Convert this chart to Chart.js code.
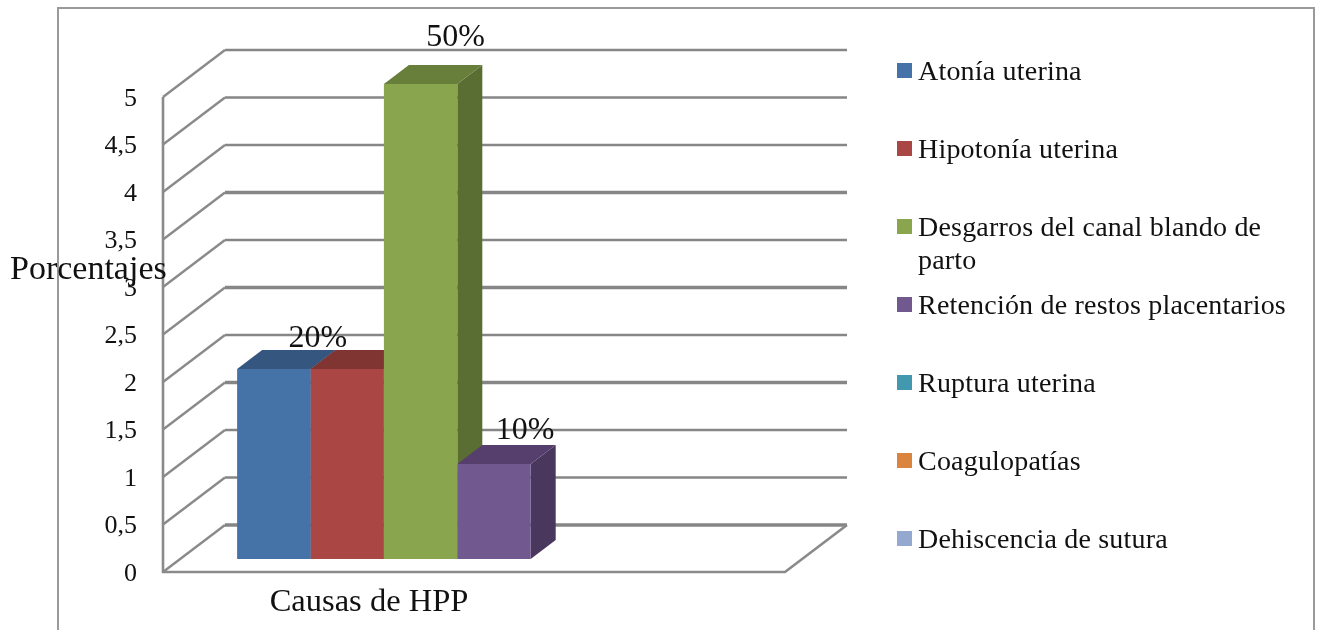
<!DOCTYPE html>
<html><head><meta charset="utf-8">
<style>html,body{margin:0;padding:0;background:#fff}canvas{display:block}</style>
<script src="https://cdn.jsdelivr.net/npm/chart.js@4"></script></head>
<body><canvas id="c" width="1317" height="630"></canvas>
<script>
const categories = ["Causas de HPP"];
const seriesNames = ["Atonía uterina","Hipotonía uterina","Desgarros del canal blando de parto","Retención de restos placentarios","Ruptura uterina","Coagulopatías","Dehiscencia de sutura"];
const legendLines = [["Atonía uterina"],["Hipotonía uterina"],["Desgarros del canal blando de","parto"],["Retención de restos placentarios"],["Ruptura uterina"],["Coagulopatías"],["Dehiscencia de sutura"]];
const seriesValues = [2,2,5,1,0,0,0];
const seriesColors = ["#4572A7","#AA4643","#89A54E","#71588F","#4198AF","#DB843D","#93A9CF"];
const topColors = ["#35577F","#813533","#687E3B","#563F6D","#317385","#A6642E","#70809D"];
const sideColors = ["#2E4C6F","#702E2C","#5A6D33","#4A375E","#2A6474","#905728","#616F88"];
const valueLabels = ["20%","","50%","10%","","",""];
const labelShift = [[44,-30],[0,0],[35,-46],[31,-33],[0,0],[0,0],[0,0]];
const heavyGridValues = [0,1.5,2.5,3.5];
const yTicks = {min:0,max:5,step:0.5};

const FONT = '"Liberation Serif", serif';
const BAR_DX = 20, BAR_DY = -13, DEPTH_X = 25, DEPTH_Y = 19, WALL_DX = 62, WALL_DY = 47;

const scene3d = {
  id:'scene3d',
  beforeDraw(chart){
    const {ctx,chartArea:a,scales:{y}} = chart;
    ctx.save();
    ctx.fillStyle='#fff';ctx.fillRect(0,0,chart.width,chart.height);
    ctx.strokeStyle='#9a9a9a';ctx.lineWidth=2;
    ctx.strokeRect(58,8,1256,640);
    y.ticks.forEach(t=>{
      const py=y.getPixelForValue(t.value);
      ctx.strokeStyle='#8a8a8a';ctx.lineWidth=2.4;
      ctx.beginPath();ctx.moveTo(a.left,py);ctx.lineTo(a.left+WALL_DX,py-WALL_DY);ctx.stroke();
      ctx.strokeStyle='#868686';ctx.lineWidth=heavyGridValues.includes(t.value)?3.4:2.6;
      ctx.beginPath();ctx.moveTo(a.left+WALL_DX,py-WALL_DY);ctx.lineTo(a.right+WALL_DX,py-WALL_DY);ctx.stroke();
    });
    ctx.strokeStyle='#8a8a8a';ctx.lineWidth=2.6;
    ctx.beginPath();ctx.moveTo(a.left,a.top);ctx.lineTo(a.left,a.bottom);ctx.lineTo(a.right,a.bottom);ctx.lineTo(a.right+WALL_DX,a.bottom-WALL_DY);ctx.stroke();
    ctx.restore();
  },
  beforeDatasetsDraw(chart){
    const {ctx} = chart;
    ctx.save();
    ctx.translate(BAR_DX,BAR_DY);
    chart.data.datasets.forEach((ds,i)=>{
      const bar=chart.getDatasetMeta(i).data[0];
      if(!bar||!ds.data[0])return;
      const {x,y,base,width}=bar.getProps(['x','y','base','width'],true);
      const l=x-width/2,r=x+width/2;
      ctx.fillStyle=sideColors[i];
      ctx.beginPath();ctx.moveTo(r,y);ctx.lineTo(r+DEPTH_X,y-DEPTH_Y);ctx.lineTo(r+DEPTH_X,base-DEPTH_Y);ctx.lineTo(r,base);ctx.closePath();ctx.fill();
      ctx.fillStyle=topColors[i];
      ctx.beginPath();ctx.moveTo(l,y);ctx.lineTo(l+DEPTH_X,y-DEPTH_Y);ctx.lineTo(r+DEPTH_X,y-DEPTH_Y);ctx.lineTo(r,y);ctx.closePath();ctx.fill();
    });
  },
  afterDatasetsDraw(chart){ chart.ctx.restore(); },
  afterDraw(chart){
    const {ctx} = chart;
    ctx.save();
    ctx.fillStyle='#111';ctx.textBaseline='middle';ctx.textAlign='center';
    ctx.font='32px '+FONT;
    chart.data.datasets.forEach((ds,i)=>{
      if(!valueLabels[i])return;
      const bar=chart.getDatasetMeta(i).data[0];
      ctx.fillText(valueLabels[i],bar.x+BAR_DX+labelShift[i][0],bar.y+BAR_DY+labelShift[i][1]);
    });
    ctx.textAlign='left';
    ctx.font='34px '+FONT;
    ctx.fillText('Porcentajes',10,270);
    ctx.font='28px '+FONT;
    ctx.letterSpacing='0.2px';
    chart.data.datasets.forEach((ds,i)=>{
      const cy=70.5+78*i;
      ctx.fillStyle=ds.backgroundColor;ctx.fillRect(897,cy-7.5,15,15);
      ctx.fillStyle='#111';
      legendLines[i].forEach((ln,k)=>ctx.fillText(ln,918,cy+2+k*33));
    });
    ctx.restore();
  }
};

new Chart(document.getElementById('c'),{
  type:'bar',
  data:{labels:categories,datasets:seriesNames.map((n,i)=>({label:n,data:[seriesValues[i]],backgroundColor:seriesColors[i],borderWidth:0,clip:false}))},
  plugins:[scene3d],
  options:{
    responsive:false,animation:false,
    layout:{padding:{top:97,right:532,left:0,bottom:0}},
    datasets:{bar:{categoryPercentage:0.826,barPercentage:1}},
    plugins:{legend:{display:false},tooltip:{enabled:false},title:{display:false}},
    scales:{
      x:{grid:{display:false},border:{display:false},
         afterFit(s){s.height=58;},
         ticks:{color:'#111',font:{family:FONT,size:32.5},padding:3,labelOffset:-105,maxRotation:0}},
      y:{min:yTicks.min,max:yTicks.max,grid:{display:false,drawTicks:false},border:{display:false},
         afterFit(s){s.width=163;},
         ticks:{stepSize:yTicks.step,color:'#111',font:{family:FONT,size:26},padding:26,labelOffset:2,
                callback:v=>String(v).replace('.',',')}}
    }
  }
});
</script></body></html>
